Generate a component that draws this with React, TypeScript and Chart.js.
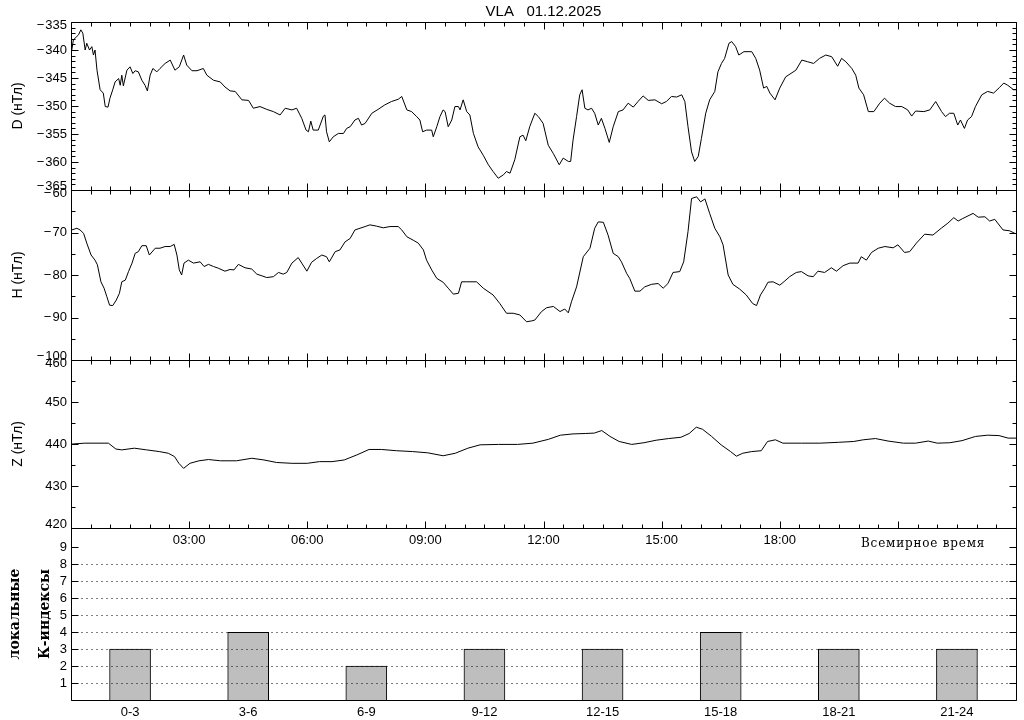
import React, { useEffect, useRef } from 'react';
import { Chart, registerables } from 'chart.js';
Chart.register(...registerables);

// ---------- DATA ----------
const titleText = 'VLA   01.12.2025';

const dTimes = [0.02,0.06,0.19,0.25,0.30,0.36,0.40,0.47,0.53,0.57,0.61,0.66,0.74,0.82,0.87,0.94,0.99,1.06,1.12,1.21,1.25,1.29,1.33,1.42,1.50,1.57,1.63,1.71,1.80,1.88,1.94,2.01,2.08,2.18,2.26,2.39,2.52,2.64,2.75,2.86,2.94,3.07,3.20,3.36,3.45,3.62,3.79,3.91,4.04,4.17,4.34,4.51,4.63,4.80,4.97,5.14,5.31,5.44,5.61,5.73,5.86,5.97,6.03,6.09,6.15,6.28,6.41,6.45,6.49,6.56,6.66,6.79,6.92,7.00,7.09,7.21,7.30,7.38,7.47,7.64,7.80,7.97,8.14,8.31,8.40,8.53,8.65,8.78,8.86,8.93,9.03,9.16,9.20,9.29,9.37,9.45,9.50,9.58,9.67,9.75,9.84,9.88,9.96,10.05,10.13,10.22,10.34,10.47,10.60,10.72,10.85,10.98,11.06,11.15,11.27,11.40,11.48,11.55,11.65,11.78,11.87,11.99,12.12,12.25,12.40,12.50,12.63,12.69,12.75,12.84,12.92,12.98,13.05,13.13,13.22,13.30,13.39,13.47,13.56,13.67,13.77,13.90,14.02,14.15,14.28,14.40,14.53,14.66,14.83,15.00,15.12,15.25,15.38,15.51,15.59,15.67,15.76,15.84,15.93,16.01,16.12,16.22,16.35,16.43,16.52,16.60,16.71,16.78,16.88,16.96,17.09,17.29,17.39,17.49,17.59,17.67,17.75,17.88,18.00,18.15,18.41,18.56,18.71,18.86,19.01,19.17,19.32,19.47,19.57,19.68,19.83,19.93,20.01,20.13,20.25,20.39,20.54,20.66,20.79,20.94,21.10,21.25,21.35,21.45,21.66,21.81,21.96,22.11,22.21,22.31,22.42,22.52,22.59,22.69,22.77,22.87,22.97,23.13,23.28,23.43,23.58,23.69,23.79,23.94,24.0];
const dValues = [-340,-338.2,-337.3,-336.4,-337,-340,-338.8,-340,-339.4,-340.9,-340,-343.6,-347.1,-347.7,-350.1,-350.2,-348.6,-347.1,-345.7,-345.1,-346.3,-344.5,-346.4,-343.6,-343,-344.2,-343.7,-343.9,-345.4,-346.3,-347.3,-344.5,-343.3,-343.9,-343.3,-342.4,-341.8,-343.6,-343,-340.9,-342.7,-343.7,-343.7,-343.3,-344.5,-345.4,-345.7,-346.6,-347.3,-347.4,-348.9,-349,-350.4,-350.1,-350.6,-351,-351.6,-350.4,-350.7,-350.4,-352.2,-354.3,-354.6,-352.7,-354.3,-354.3,-351.8,-351.6,-354.6,-356.4,-355.5,-354.9,-354.9,-354,-353.7,-352.5,-352.2,-353.4,-353.1,-351.3,-350.6,-349.8,-349.2,-348.8,-348.3,-350.7,-351,-351.9,-352.5,-354.6,-354.3,-354.3,-355.5,-353.7,-351.9,-350.7,-351,-353.7,-352.5,-350.1,-350.1,-350.7,-348.9,-351,-351.6,-354.9,-357.3,-358.8,-360.5,-361.7,-362.9,-362.3,-361.7,-362,-359.6,-355.5,-355.2,-356.2,-353.7,-351.3,-351.9,-353.1,-357,-358.5,-360.5,-359.3,-359.9,-359.9,-356.1,-351.9,-348,-347.1,-350.4,-350.7,-350.4,-351.3,-353.4,-352.2,-354,-356.5,-353.7,-351,-350.7,-349.5,-350.2,-349.2,-348.2,-349,-348.9,-349.6,-349.2,-348.3,-348.4,-348,-349.2,-353.7,-358.2,-359.9,-359,-355.8,-351.3,-348.9,-347.4,-343.9,-342.4,-341.5,-338.8,-338.5,-339.4,-340.9,-340.3,-340.3,-341.5,-343.6,-346.8,-346.5,-347.7,-348.9,-346.8,-344.8,-343.6,-341.8,-342.1,-342.4,-341.5,-340.9,-341.2,-342.9,-341.5,-342.1,-343.3,-344.5,-346.8,-348,-351,-351,-349.5,-348.6,-349.5,-350.1,-350.1,-350.7,-351.8,-350.9,-351,-350.7,-349.2,-351,-351.9,-351.3,-351.3,-353.4,-352.5,-354,-352.5,-351.9,-350.1,-348,-347.4,-347.7,-346.7,-345.9,-346.3,-347.1,-347.1];

const hTimes = [0.02,0.15,0.23,0.32,0.40,0.51,0.61,0.67,0.76,0.84,0.91,0.98,1.06,1.15,1.23,1.29,1.38,1.46,1.55,1.63,1.71,1.80,1.91,1.99,2.14,2.26,2.39,2.52,2.62,2.69,2.75,2.81,2.87,2.98,3.11,3.28,3.38,3.49,3.62,3.74,3.91,4.04,4.14,4.25,4.42,4.59,4.72,4.85,4.97,5.14,5.27,5.39,5.48,5.61,5.77,5.86,5.99,6.11,6.24,6.37,6.49,6.56,6.71,6.83,6.96,7.09,7.21,7.34,7.47,7.59,7.76,7.93,8.10,8.31,8.40,8.53,8.69,8.82,8.95,9.03,9.16,9.29,9.45,9.58,9.71,9.84,9.92,10.05,10.30,10.47,10.72,10.89,11.06,11.23,11.40,11.57,11.70,11.78,11.95,12.08,12.25,12.42,12.54,12.63,12.71,12.84,13.01,13.18,13.30,13.39,13.52,13.64,13.77,13.90,13.98,14.11,14.19,14.32,14.45,14.57,14.74,14.91,15.04,15.16,15.29,15.46,15.56,15.67,15.76,15.89,15.99,16.10,16.22,16.35,16.48,16.56,16.69,16.81,16.98,17.15,17.31,17.41,17.51,17.62,17.70,17.83,18.00,18.13,18.25,18.42,18.55,18.72,18.85,18.97,19.14,19.31,19.44,19.61,19.78,19.99,20.07,20.20,20.33,20.50,20.67,20.88,21.00,21.17,21.30,21.47,21.68,21.89,22.10,22.27,22.42,22.53,22.65,22.91,23.04,23.21,23.33,23.46,23.67,23.84,23.97];
const hValues = [-69.4,-69,-69.4,-70.2,-72.5,-75.3,-76.5,-77.6,-81.6,-83.1,-85.1,-87.1,-87.2,-85.9,-84.3,-81.6,-81.2,-79.2,-77.2,-74.9,-74.5,-73.1,-73.1,-75.3,-73.7,-73.7,-73.3,-73.3,-72.8,-75.3,-78.8,-80,-77.2,-76.5,-77.2,-76.9,-78,-77.5,-78,-78.4,-79.1,-78.7,-78.8,-77.5,-78.3,-78.6,-79.8,-80.2,-80.6,-80.4,-79.4,-79.8,-79.4,-77.2,-75.9,-77.2,-79.1,-77,-76.1,-75.3,-75.7,-76.9,-74.5,-74.1,-72.2,-71.4,-69.4,-69,-68.6,-68.2,-68.5,-68.9,-68.6,-68.6,-69.4,-71,-71.8,-72.5,-74.1,-76.5,-78.8,-80.8,-81.7,-83.1,-84.5,-84.3,-81.6,-81.6,-81.6,-83.1,-84.7,-86.7,-89,-89,-89.4,-91,-90.8,-90.6,-88.6,-87.7,-87.4,-88.6,-88,-88.9,-86.3,-82.8,-75.7,-73.7,-69,-67.5,-67.6,-70.6,-74.9,-75.7,-76.9,-79.6,-80.8,-83.8,-83.8,-82.8,-82.2,-82,-83.1,-82,-79.4,-79.2,-76.9,-69.8,-62,-61.6,-62.8,-62.1,-65.5,-69,-71,-72.9,-80,-82.2,-83.3,-84.7,-86.7,-87.2,-84.7,-83.1,-81.7,-81.6,-82.4,-81.4,-80.4,-79.4,-79.2,-80.2,-80.4,-79.1,-79.4,-78.3,-79.1,-77.8,-77.2,-77.2,-75.7,-76.5,-74.7,-73.7,-73.3,-73.6,-72.9,-74.7,-74.5,-72.5,-70.4,-70.6,-69,-67.8,-66.5,-67.3,-66.7,-65.5,-66.4,-66.3,-67.3,-66.9,-69.4,-69.6,-70.2];

const zTimes = [0,0.04,0.35,0.66,0.95,1.14,1.29,1.61,1.92,2.24,2.47,2.63,2.74,2.86,3.02,3.25,3.49,3.80,4.20,4.59,4.90,5.22,5.61,6.00,6.31,6.63,6.94,7.26,7.57,7.88,8.27,8.67,9.06,9.45,9.76,10.08,10.39,10.86,11.34,11.73,12.12,12.43,12.75,13.06,13.29,13.48,13.69,13.92,14.24,14.55,14.86,15.18,15.49,15.70,15.88,16.04,16.27,16.51,16.75,16.90,17.06,17.29,17.53,17.69,17.89,18.08,18.55,19.02,19.49,19.88,20.12,20.43,20.75,21.14,21.45,21.77,22.00,22.32,22.63,22.97,23.28,23.57,23.80,24.0];
const zValues = [440.2,440,440.2,440.2,440.2,438.8,438.6,439,438.6,438.2,437.8,437,435.4,434.2,435.4,436,436.3,436,436,436.6,436.2,435.6,435.4,435.4,435.8,435.8,436.2,437.4,438.7,438.7,438.4,438.2,437.9,437.2,437.8,439,439.8,439.9,439.9,440.2,441.1,442.1,442.4,442.5,442.6,443.2,441.8,440.6,439.9,440.3,440.9,441.3,441.6,442.5,444,443.5,441.8,439.8,438.2,437.1,437.8,438.2,438.4,440.6,441,440.2,440.2,440.2,440.4,440.6,441,441.3,440.7,440.2,440.2,440.7,440.2,440.3,440.8,441.8,442.1,442,441.4,441.4];

const kCategories = ['0-3', '3-6', '6-9', '9-12', '12-15', '15-18', '18-21', '21-24'];
const kValues = [3, 4, 2, 3, 3, 4, 3, 3];
const kGridLevels = [1, 2, 3, 4, 5, 6, 7, 8];
const timeLabelHours = [3, 6, 9, 12, 15, 18];
const xAxisTitle = 'Всемирное время';

// ---------- STYLE ----------
const SANS = '"Liberation Sans", Arial, sans-serif';
const SERIF = '"DejaVu Serif", "Liberation Serif", serif';
const tickFont = { family: SANS, size: 13 };
const yTickFont = { family: SANS, size: 13, lineHeight: '7px' };
const Y_AXIS_WIDTH = 71;

const fmtNum = (v: number) => (v < 0 ? '\u2212\u200A' + Math.abs(v) : String(v));

const framePlugin = {
  id: 'frame',
  afterDatasetsDraw(chart: any, _args: any, o: any) {
    const { ctx, chartArea: a } = chart;
    const xs = chart.scales.x;
    const ys = chart.scales.y;
    const L = Math.round(a.left) + 0.5;
    const R = Math.round(a.right) + 0.5;
    const T = Math.round(a.top) + 0.5;
    const B = Math.round(a.bottom) + 0.5;
    ctx.save();
    ctx.strokeStyle = '#000';
    ctx.lineWidth = 1;
    const seg = (x1: number, y1: number, x2: number, y2: number) => {
      ctx.beginPath();
      ctx.moveTo(x1, y1);
      ctx.lineTo(x2, y2);
      ctx.stroke();
    };
    if (o.dotted) {
      ctx.setLineDash([1, 4]);
      for (const v of o.dotted) {
        const y = Math.round(ys.getPixelForValue(v)) + 0.5;
        seg(L, y, R, y);
      }
      ctx.setLineDash([]);
    }
    seg(L, T, R, T);
    seg(L, B, R, B);
    seg(L, T, L, B);
    seg(R, T, R, B);
    if (o.xMinor) {
      const n = Math.round(24 / o.xMinor);
      for (let i = 0; i <= n; i++) {
        const v = i * o.xMinor;
        const major = Math.abs(v / o.xMajor - Math.round(v / o.xMajor)) < 1e-6;
        const len = major ? 7 : 4;
        const px = Math.round(xs.getPixelForValue(v)) + 0.5;
        seg(px, T, px, T + len);
        seg(px, B, px, B - len);
      }
    }
    if (o.yMinor) {
      const n = Math.round((o.yMax - o.yMin) / o.yMinor);
      for (let i = 0; i <= n; i++) {
        const v = o.yMin + i * o.yMinor;
        const major = Math.abs((v - o.yMin) / o.yMajor - Math.round((v - o.yMin) / o.yMajor)) < 1e-6;
        const len = major ? 7 : 4;
        const py = Math.round(ys.getPixelForValue(v)) + 0.5;
        seg(L, py, L + len, py);
        seg(R, py, R - len, py);
      }
    }
    if (o.text) {
      ctx.fillStyle = '#000';
      ctx.font = o.text.font;
      try { (ctx as any).letterSpacing = o.text.spacing || '0px'; } catch (e) {}
      ctx.textAlign = 'left';
      ctx.textBaseline = 'alphabetic';
      ctx.fillText(o.text.str, o.text.x, o.text.y);
    }
    ctx.restore();
  },
};

function makeLineChart(canvas: HTMLCanvasElement, times: number[], values: number[], o: any) {
  const pts = times.map((t, i) => ({ x: t, y: values[i] }));
  return new Chart(canvas, {
    type: 'line',
    data: {
      datasets: [{ data: pts, borderColor: '#000', borderWidth: 1, pointRadius: 0, tension: 0, fill: false }],
    },
    options: {
      responsive: false,
      animation: false,
      devicePixelRatio: 1,
      events: [],
      layout: { padding: { left: 0, right: 8, top: o.top, bottom: o.bottom } },
      plugins: {
        legend: { display: false },
        tooltip: { enabled: false },
        title: o.title
          ? {
              display: true,
              text: o.title,
              fullSize: false,
              color: '#000',
              font: { family: SANS, size: 15, weight: 'normal', lineHeight: '16px' },
              padding: { top: 4, bottom: 2 },
            }
          : { display: false },
        frame: { xMinor: 0.5, xMajor: 3, yMin: o.min, yMax: o.max, yMajor: o.major, yMinor: o.minor },
      },
      scales: {
        x: {
          type: 'linear',
          min: 0,
          max: 24,
          display: !!o.showTime,
          grid: { display: false, drawTicks: false },
          border: { display: false },
          ticks: {
            stepSize: 3,
            autoSkip: false,
            maxRotation: 0,
            padding: 5,
            color: '#000',
            font: tickFont,
            callback: (v: any) => (timeLabelHours.includes(v) ? String(v).padStart(2, '0') + ':00' : ''),
          },
          afterFit: o.showTime ? (s: any) => { s.height = 20; } : undefined,
        },
        y: {
          type: 'linear',
          min: o.min,
          max: o.max,
          grid: { display: false, drawTicks: false },
          border: { display: false },
          ticks: {
            stepSize: o.major,
            autoSkip: false,
            padding: 4,
            color: '#000',
            font: yTickFont,
            callback: (v: any) =>
              v === o.max ? ['', fmtNum(v)] : v === o.min ? [fmtNum(v), ''] : fmtNum(v),
          },
          title: { display: true, text: o.label, color: '#000', font: { family: SANS, size: 14 }, padding: { top: 10, bottom: 0 } },
          afterFit: (s: any) => { s.width = Y_AXIS_WIDTH; },
        },
      },
    } as any,
    plugins: [framePlugin],
  });
}

function makeKChart(canvas: HTMLCanvasElement) {
  return new Chart(canvas, {
    type: 'bar',
    data: {
      labels: kCategories,
      datasets: [{ data: kValues, backgroundColor: '#bebebe', borderColor: '#000', borderWidth: 1, barThickness: 41 }],
    },
    options: {
      responsive: false,
      animation: false,
      devicePixelRatio: 1,
      events: [],
      layout: { padding: { left: 0, right: 8, top: 528, bottom: 0 } },
      plugins: {
        legend: { display: false },
        tooltip: { enabled: false },
        frame: {
          dotted: kGridLevels,
          yMin: 0, yMax: 9, yMajor: 1, yMinor: 1,
          text: { str: xAxisTitle, x: 861, y: 547, font: '12px ' + SERIF, spacing: '0.8px' },
        },
      },
      scales: {
        x: {
          type: 'category',
          grid: { display: false, drawTicks: false },
          border: { display: false },
          ticks: { padding: 5, color: '#000', font: tickFont, maxRotation: 0, autoSkip: false },
          afterFit: (s: any) => { s.height = 20; },
        },
        y: {
          type: 'linear',
          min: 0,
          max: 10.15,
          grid: { display: false, drawTicks: false },
          border: { display: false },
          ticks: {
            stepSize: 1,
            autoSkip: false,
            padding: 4,
            color: '#000',
            font: tickFont,
            callback: (v: any) => (Number.isInteger(v) && v >= 1 && v <= 9 ? String(v) : ''),
          },
          title: {
            display: true,
            text: ['локальные', 'К-индексы'],
            color: '#000',
            font: { family: SERIF, size: 14, weight: 'bold', lineHeight: '30px' },
            padding: { top: 0, bottom: 0 },
          },
          afterFit: (s: any) => { s.width = Y_AXIS_WIDTH; },
        },
      },
    } as any,
    plugins: [framePlugin],
  });
}

export default function App() {
  const dRef = useRef<HTMLCanvasElement>(null);
  const hRef = useRef<HTMLCanvasElement>(null);
  const zRef = useRef<HTMLCanvasElement>(null);
  const kRef = useRef<HTMLCanvasElement>(null);

  useEffect(() => {
    document.body.style.margin = '0';
    document.body.style.background = '#fff';
    const charts = [
      makeLineChart(dRef.current!, dTimes, dValues, { top: 0, bottom: 720 - 190, min: -365, max: -335, major: 5, minor: 1, label: 'D (нТл)', title: titleText }),
      makeLineChart(hRef.current!, hTimes, hValues, { top: 190, bottom: 720 - 360, min: -100, max: -60, major: 10, minor: 5, label: 'H (нТл)' }),
      makeLineChart(zRef.current!, zTimes, zValues, { top: 360, bottom: 720 - 528 - 20, min: 420, max: 460, major: 10, minor: 5, label: 'Z (нТл)', showTime: true }),
      makeKChart(kRef.current!),
    ];
    return () => charts.forEach((c) => c.destroy());
  }, []);

  const cs: React.CSSProperties = { position: 'absolute', left: 0, top: 0 };
  return (
    <div style={{ position: 'relative', width: 1024, height: 720, background: '#fff' }}>
      <canvas ref={dRef} width={1024} height={720} style={cs} />
      <canvas ref={hRef} width={1024} height={720} style={cs} />
      <canvas ref={zRef} width={1024} height={720} style={cs} />
      <canvas ref={kRef} width={1024} height={720} style={cs} />
    </div>
  );
}
